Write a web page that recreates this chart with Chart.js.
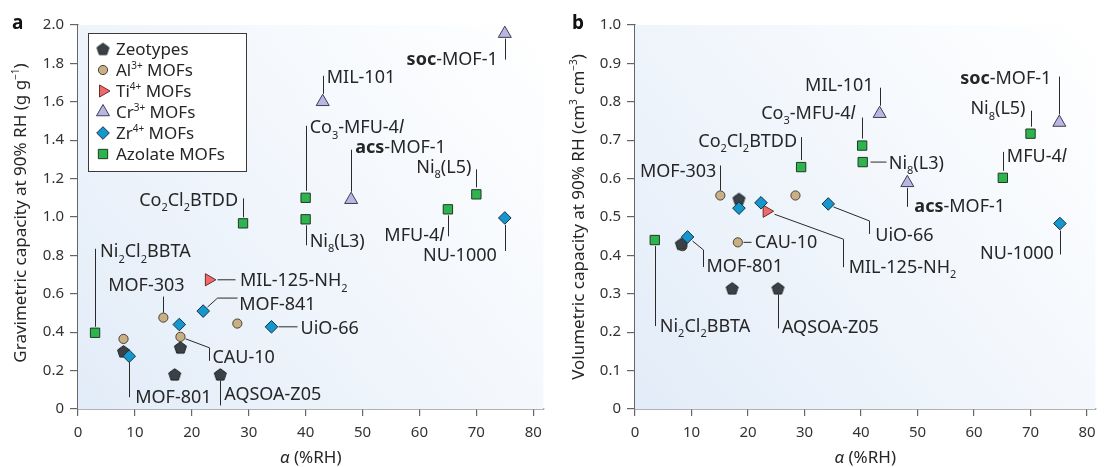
<!DOCTYPE html>
<html>
<head>
<meta charset="utf-8">
<script src="https://cdn.jsdelivr.net/npm/chart.js@4.4.0/dist/chart.umd.min.js"></script>
<style>
  body { margin: 0; background: #fff; }
  .panel { position: absolute; top: 0; width: 552px; height: 467px; }
</style>
</head>
<body>
<div class="panel" style="left:0"><canvas id="chartA" width="552" height="467"></canvas></div>
<div class="panel" style="left:552px"><canvas id="chartB" width="552" height="467"></canvas></div>
<script>
// ---- data (alpha = %RH at step, capacity at 90% RH) ----
const groupNames = ['Zeotypes', 'Al^{3+} MOFs', 'Ti^{4+} MOFs', 'Cr^{3+} MOFs', 'Zr^{4+} MOFs', 'Azolate MOFs'];

// panel a : gravimetric (g g-1)
const zeoAlphaA = [8, 18, 17, 25];
const zeoCapA = [0.30, 0.32, 0.18, 0.18];
const zeoNameA = ['', '', '', 'AQSOA-Z05'];

const alAlphaA = [8, 15, 18, 28];
const alCapA = [0.365, 0.476, 0.376, 0.445];
const alNameA = ['', 'MOF-303', 'CAU-10', ''];

const tiAlphaA = [23];
const tiCapA = [0.673];
const tiNameA = ['MIL-125-NH_{2}'];

const crAlphaA = [43, 48, 75];
const crCapA = [1.60, 1.09, 1.955];
const crNameA = ['MIL-101', '*acs*-MOF-1', '*soc*-MOF-1'];

const zrAlphaA = [9, 17.8, 22, 34, 75];
const zrCapA = [0.275, 0.44, 0.51, 0.428, 0.995];
const zrNameA = ['MOF-801', '', 'MOF-841', 'UiO-66', 'NU-1000'];

const azAlphaA = [3, 29, 40, 40, 65, 70];
const azCapA = [0.397, 0.967, 1.10, 0.988, 1.04, 1.118];
const azNameA = ['Ni_{2}Cl_{2}BBTA', 'Co_{2}Cl_{2}BTDD', 'Co_{3}-MFU-4~l~', 'Ni_{8}(L3)', 'MFU-4~l~', 'Ni_{8}(L5)'];

// panel b : volumetric (cm3 cm-3)
const zeoAlphaB = [8.2, 18.4, 17.2, 25.3];
const zeoCapB = [0.43, 0.547, 0.314, 0.314];
const zeoNameB = ['', '', '', 'AQSOA-Z05'];

const alAlphaB = [8.4, 15.1, 18.2, 28.4];
const alCapB = [0.424, 0.556, 0.434, 0.556];
const alNameB = ['', 'MOF-303', 'CAU-10', ''];

const tiAlphaB = [23.3];
const tiCapB = [0.515];
const tiNameB = ['MIL-125-NH_{2}'];

const crAlphaB = [43.3, 48.2, 75.1];
const crCapB = [0.769, 0.589, 0.746];
const crNameB = ['MIL-101', '*acs*-MOF-1', '*soc*-MOF-1'];

const zrAlphaB = [9.3, 18.4, 22.3, 34.2, 75.2];
const zrCapB = [0.448, 0.523, 0.537, 0.534, 0.483];
const zrNameB = ['MOF-801', '', '', 'UiO-66', 'NU-1000'];

const azAlphaB = [3.5, 29.4, 40.2, 40.3, 65.1, 70.0];
const azCapB = [0.44, 0.63, 0.686, 0.643, 0.602, 0.717];
const azNameB = ['Ni_{2}Cl_{2}BBTA', 'Co_{2}Cl_{2}BTDD', 'Co_{3}-MFU-4~l~', 'Ni_{8}(L3)', 'MFU-4~l~', 'Ni_{8}(L5)'];

const xTicks = [0, 10, 20, 30, 40, 50, 60, 70, 80];

// ---- label placement (pixel offsets from the marker) ----
const labelsA = {
  'Ni_{2}Cl_{2}BBTA': { path: [[0, -6], [0, -84]], dx: 5, dy: -82, align: 'left' },
  'MOF-303': { path: [[0, -5], [0, -21]], dx: -17, dy: -33, align: 'center' },
  'MIL-125-NH_{2}': { path: [[8, 0], [26, 0]], dx: 31, dy: 0, align: 'left' },
  'MOF-841': { path: [[4, -4], [14, -13], [34, -13]], dx: 36, dy: -8, align: 'left' },
  'UiO-66': { path: [[7, 0], [26, 0]], dx: 29, dy: 1, align: 'left' },
  'CAU-10': { path: [[5, 2], [29, 11], [29, 24]], dx: 32, dy: 20, align: 'left' },
  'MOF-801': { path: [[0, 6], [0, 41]], dx: 6, dy: 40, align: 'left' },
  'AQSOA-Z05': { path: [[0, 6], [0, 31]], dx: 4, dy: 19, align: 'left' },
  'Co_{2}Cl_{2}BTDD': { path: [[0, -6], [0, -25]], dx: -5, dy: -24, align: 'right' },
  'MIL-101': { path: [[0, -8], [0, -26]], dx: 4, dy: -25, align: 'left' },
  '*soc*-MOF-1': { path: [[0, 5], [0, 26]], dx: -7, dy: 25, align: 'right' },
  'Co_{3}-MFU-4~l~': { path: [[0, -7], [0, -72]], dx: 4, dy: -71, align: 'left' },
  '*acs*-MOF-1': { path: [[0, -8], [0, -50]], dx: 4, dy: -53, align: 'left' },
  'Ni_{8}(L5)': { path: [[0, -7], [0, -25]], dx: -5, dy: -28, align: 'right' },
  'Ni_{8}(L3)': { path: [[0, 6], [0, 26]], dx: 4, dy: 21, align: 'left' },
  'MFU-4~l~': { path: [[0, 6], [0, 27]], dx: -4, dy: 25, align: 'right' },
  'NU-1000': { path: [[0, 7], [0, 33]], dx: -8, dy: 37, align: 'right' }
};

const labelsB = {
  'MOF-303': { path: [[0, -5], [0, -30]], dx: -4, dy: -25, align: 'right' },
  'Co_{2}Cl_{2}BTDD': { path: [[0, -7], [0, -30]], dx: -4, dy: -27, align: 'right' },
  'Co_{3}-MFU-4~l~': { path: [[0, -7], [0, -28]], dx: -7, dy: -33, align: 'right' },
  'MIL-101': { path: [[0, -8], [0, -26]], dx: -6, dy: -29, align: 'right' },
  'Ni_{8}(L3)': { path: [[7, 0], [23, 0]], dx: 26, dy: 0, align: 'left' },
  '*acs*-MOF-1': { path: [[0, 5], [0, 24]], dx: 7, dy: 23, align: 'left' },
  '*soc*-MOF-1': { path: [[0, -8], [0, -46]], dx: -8, dy: -45, align: 'right' },
  'Ni_{8}(L5)': { path: [[0, -7], [0, -23]], dx: -5, dy: -26, align: 'right' },
  'MFU-4~l~': { path: [[0, -7], [0, -26]], dx: 4, dy: -22, align: 'left' },
  'UiO-66': { path: [[5, 3], [41, 17], [41, 30]], dx: 47, dy: 31, align: 'left' },
  'MIL-125-NH_{2}': { path: [[7, 3], [76, 28], [76, 56]], dx: 82, dy: 55, align: 'left' },
  'CAU-10': { path: [[5, 0], [13, 0]], dx: 17, dy: -1, align: 'left' },
  'MOF-801': { path: [[4, 4], [15, 13], [15, 30]], dx: 19, dy: 29, align: 'left' },
  'Ni_{2}Cl_{2}BBTA': { path: [[0, 6], [0, 86]], dx: 5, dy: 85, align: 'left' },
  'AQSOA-Z05': { path: [[0, 6], [0, 40]], dx: 4, dy: 38, align: 'left' },
  'NU-1000': { path: [[0, 7], [0, 31]], dx: -6, dy: 29, align: 'right' }
};

// ---- styles ----
const FONT = '"Noto Sans", "Open Sans", sans-serif';

function pentagon(r, fill, stroke) {
  const c = document.createElement('canvas');
  c.width = c.height = Math.ceil(2 * r + 4);
  const g = c.getContext('2d');
  const m = c.width / 2;
  g.beginPath();
  for (let i = 0; i < 5; i++) {
    const a = -Math.PI / 2 + i * 2 * Math.PI / 5;
    g.lineTo(m + r * Math.cos(a), m + 0.5 + r * Math.sin(a));
  }
  g.closePath();
  g.fillStyle = fill;
  g.fill();
  g.lineWidth = 1;
  g.strokeStyle = stroke;
  g.stroke();
  return c;
}

const groupStyle = [
  { pointStyle: pentagon(6.3, '#3a4247', '#1c2124'), radius: 6, rotation: 0, bg: '#3a4247', border: '#1c2124', order: 1 },
  { pointStyle: 'circle', radius: 4.6, rotation: 0, bg: '#c9af85', border: '#4a4236', order: 2 },
  { pointStyle: 'triangle', radius: 7, rotation: 90, bg: '#f06a6a', border: '#6b2c2c', order: 1 },
  { pointStyle: 'triangle', radius: 7.5, rotation: 0, bg: '#b9b7e1', border: '#3e3d55', order: 1 },
  { pointStyle: 'rectRot', radius: 6.3, rotation: 0, bg: '#1496cf', border: '#16303d', order: 0 },
  { pointStyle: 'rect', radius: 6.6, rotation: 0, bg: '#2eb34f', border: '#1d3a24', order: 3 }
];

// ---- rich text (sub/superscript, bold, italic) ----
function parseRich(str) {
  const segs = [];
  const re = /_\{([^}]*)\}|\^\{([^}]*)\}|\*([^*]*)\*|~([^~]*)~|([^_^*~]+)/g;
  let m;
  while ((m = re.exec(str))) {
    if (m[1] !== undefined) segs.push({ t: m[1], k: 'sub' });
    else if (m[2] !== undefined) segs.push({ t: m[2], k: 'sup' });
    else if (m[3] !== undefined) segs.push({ t: m[3], k: 'bold' });
    else if (m[4] !== undefined) segs.push({ t: m[4], k: 'it' });
    else segs.push({ t: m[5], k: '' });
  }
  return segs;
}

function segFont(k, size) {
  const s = (k === 'sub' || k === 'sup') ? Math.round(size * 0.6) : size;
  return (k === 'bold' ? 'bold ' : k === 'it' ? 'italic ' : '') + s + 'px ' + FONT;
}

function drawRich(ctx, str, x, midY, size, align, color) {
  const segs = parseRich(str);
  ctx.save();
  ctx.textBaseline = 'alphabetic';
  ctx.textAlign = 'left';
  ctx.fillStyle = color || '#262626';
  let w = 0;
  segs.forEach(s => { ctx.font = segFont(s.k, size); s.w = ctx.measureText(s.t).width; w += s.w; });
  let cx = align === 'right' ? x - w : align === 'center' ? x - w / 2 : x;
  const base = midY + size * 0.36;
  segs.forEach(s => {
    ctx.font = segFont(s.k, size);
    const shift = s.k === 'sub' ? size * 0.3 : s.k === 'sup' ? -size * 0.4 : 0;
    ctx.fillText(s.t, cx, base + shift);
    cx += s.w;
  });
  ctx.restore();
}

function markPoint(ctx, st, x, y) {
  ctx.save();
  ctx.fillStyle = st.bg;
  ctx.strokeStyle = st.border;
  ctx.lineWidth = 1;
  Chart.helpers.drawPoint(ctx, { pointStyle: st.pointStyle, radius: st.radius, rotation: st.rotation, borderWidth: 1 }, x, y);
  ctx.restore();
}

// ---- decoration plugin: background, labels, titles, legend ----
const decor = {
  id: 'decor',
  beforeDatasetsDraw(chart) {
    const { ctx, chartArea: a } = chart;
    const g = ctx.createLinearGradient(a.left, a.bottom, a.right, a.top);
    g.addColorStop(0, '#e2ecf8');
    g.addColorStop(0.55, '#f3f7fc');
    g.addColorStop(1, '#ffffff');
    ctx.save();
    ctx.fillStyle = g;
    ctx.fillRect(a.left, a.top, a.right - a.left, a.bottom - a.top);
    ctx.restore();
  },
  afterDatasetsDraw(chart) {
    const { ctx, chartArea: a } = chart;
    const cfg = chart.options.plugins.decor;
    // leader lines and labels
    chart.data.datasets.forEach((ds, di) => {
      const meta = chart.getDatasetMeta(di);
      ds.names.forEach((name, i) => {
        const lay = cfg.labels[name];
        if (!name || !lay) return;
        const p = meta.data[i];
        ctx.save();
        ctx.strokeStyle = '#2a2a2a';
        ctx.lineWidth = 1;
        ctx.beginPath();
        lay.path.forEach((q, k) => {
          const px = Math.round(p.x + q[0]) + 0.5, py = p.y + q[1];
          if (k === 0) ctx.moveTo(px, py); else ctx.lineTo(px, py);
        });
        ctx.stroke();
        ctx.restore();
        drawRich(ctx, name, p.x + lay.dx, p.y + lay.dy, 18, lay.align);
      });
    });
    // axis titles
    ctx.save();
    ctx.translate(cfg.yTitleX, cfg.yTitleY);
    ctx.rotate(-Math.PI / 2);
    drawRich(ctx, cfg.yTitle, 0, 0, 17, 'center');
    ctx.restore();
    drawRich(ctx, '~α~ (%RH)', (a.left + a.right) / 2, 457, 17, 'center');
    // panel letter
    ctx.save();
    ctx.font = 'bold 19px ' + FONT;
    ctx.fillStyle = '#111';
    ctx.textBaseline = 'alphabetic';
    ctx.fillText(cfg.letter, cfg.letterX, 29);
    ctx.restore();
    // legend
    if (cfg.legend) {
      const L = cfg.legend;
      ctx.save();
      ctx.fillStyle = '#ffffff';
      ctx.fillRect(L.x, L.y, L.w, L.h);
      ctx.strokeStyle = '#3a3a3a';
      ctx.lineWidth = 1;
      ctx.strokeRect(L.x + 0.5, L.y + 0.5, L.w, L.h);
      ctx.restore();
      groupNames.forEach((n, i) => {
        const y = L.y + 16 + i * 21;
        markPoint(ctx, groupStyle[i], L.x + 15, y);
        drawRich(ctx, n, L.x + 28, y, 17, 'left');
      });
    }
  }
};

function buildSets(alphas, caps, names) {
  return alphas.map((al, gi) => {
    const st = groupStyle[gi];
    return {
      label: groupNames[gi],
      data: al.map((x, i) => ({ x: x, y: caps[gi][i] })),
      names: names[gi],
      order: st.order,
      pointStyle: st.pointStyle,
      pointRadius: st.radius,
      pointRotation: st.rotation,
      pointBackgroundColor: st.bg,
      pointBorderColor: st.border,
      pointBorderWidth: 1,
      showLine: false
    };
  });
}

function makeChart(id, sets, opt) {
  const tickFont = { family: FONT, size: 15 };
  return new Chart(document.getElementById(id), {
    type: 'scatter',
    data: { datasets: sets },
    options: {
      responsive: false,
      animation: false,
      devicePixelRatio: 1,
      events: [],
      layout: { padding: { left: 0, right: opt.padRight, top: 25, bottom: 0 } },
      plugins: {
        legend: { display: false },
        tooltip: { enabled: false },
        decor: opt.decor
      },
      scales: {
        x: {
          type: 'linear',
          min: 0,
          max: opt.xMax,
          afterFit: s => { s.height = 58; },
          afterBuildTicks: s => { s.ticks = xTicks.map(v => ({ value: v })); },
          border: { display: true, color: '#666', width: 1.5 },
          grid: { display: true, drawOnChartArea: false, drawTicks: true, tickLength: 7, color: '#666', lineWidth: 1.2 },
          ticks: { font: tickFont, color: '#333', padding: 8, maxRotation: 0, includeBounds: false }
        },
        y: {
          type: 'linear',
          min: 0,
          max: opt.yMax,
          afterFit: s => { s.width = opt.yWidth; },
          afterBuildTicks: s => { s.ticks = opt.yTicks.map(v => ({ value: v })); },
          border: { display: true, color: '#666', width: 1.5 },
          grid: { display: true, drawOnChartArea: false, drawTicks: true, tickLength: 8, color: '#666', lineWidth: 1.2 },
          ticks: {
            font: tickFont, color: '#333', padding: 6, includeBounds: false,
            callback: v => (v === 0 ? '0' : v.toFixed(1))
          }
        }
      }
    },
    plugins: [decor]
  });
}

const yTicksA = [0, 0.2, 0.4, 0.6, 0.8, 1.0, 1.2, 1.4, 1.6, 1.8, 2.0];
const yTicksB = [0, 0.1, 0.2, 0.3, 0.4, 0.5, 0.6, 0.7, 0.8, 0.9, 1.0];

makeChart('chartA',
  buildSets([zeoAlphaA, alAlphaA, tiAlphaA, crAlphaA, zrAlphaA, azAlphaA],
            [zeoCapA, alCapA, tiCapA, crCapA, zrCapA, azCapA],
            [zeoNameA, alNameA, tiNameA, crNameA, zrNameA, azNameA]),
  {
    padRight: 6, xMax: 81.8, yMax: 2.0, yWidth: 78, yTicks: yTicksA,
    decor: {
      labels: labelsA, letter: 'a', letterX: 12,
      yTitle: 'Gravimetric capacity at 90% RH (g g^{−1})', yTitleX: 20, yTitleY: 213,
      legend: { x: 88, y: 33, w: 158, h: 138 }
    }
  });

makeChart('chartB',
  buildSets([zeoAlphaB, alAlphaB, tiAlphaB, crAlphaB, zrAlphaB, azAlphaB],
            [zeoCapB, alCapB, tiCapB, crCapB, zrCapB, azCapB],
            [zeoNameB, alNameB, tiNameB, crNameB, zrNameB, azNameB]),
  {
    padRight: 3, xMax: 81.5, yMax: 1.0, yWidth: 83, yTicks: yTicksB,
    decor: {
      labels: labelsB, letter: 'b', letterX: 20,
      yTitle: 'Volumetric capacity at 90% RH (cm^{3} cm^{−3})', yTitleX: 26, yTitleY: 217,
      legend: null
    }
  });
</script>
</body>
</html>
